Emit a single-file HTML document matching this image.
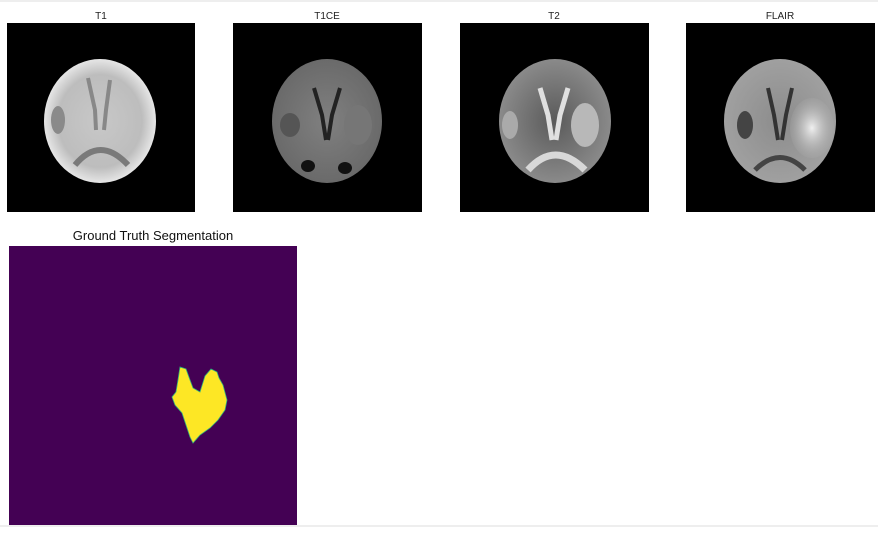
<!DOCTYPE html>
<html><head><meta charset="utf-8"><style>
body{margin:0;background:#fff;width:878px;height:529px;overflow:hidden;font-family:"Liberation Sans","DejaVu Sans",sans-serif}
</style></head><body>
<svg width="878" height="529" xmlns="http://www.w3.org/2000/svg">
<defs>
<radialGradient id="g1"><stop offset="0" stop-color="#c8c8c8"/><stop offset="0.75" stop-color="#bdbdbd"/><stop offset="1" stop-color="#e6e6e6"/></radialGradient>
<radialGradient id="g2"><stop offset="0" stop-color="#808080"/><stop offset="1" stop-color="#6a6a6a"/></radialGradient>
<radialGradient id="g3"><stop offset="0" stop-color="#5a5a5a"/><stop offset="1" stop-color="#8a8a8a"/></radialGradient>
<radialGradient id="g4"><stop offset="0" stop-color="#8c8c8c"/><stop offset="1" stop-color="#a0a0a0"/></radialGradient>
<radialGradient id="fl"><stop offset="0" stop-color="#f0f0f0"/><stop offset="1" stop-color="#b0b0b0" stop-opacity="0.2"/></radialGradient>
</defs>
<line x1="0" y1="1" x2="878" y2="1" stroke="#ddd" stroke-width="1"/>
<line x1="0" y1="526" x2="878" y2="526" stroke="#ddd" stroke-width="1"/>

<g>
<text x="101" y="19" font-size="10" text-anchor="middle" fill="#222">T1</text>
<rect x="7" y="23" width="188" height="189" fill="#000"/>
<ellipse cx="100" cy="121" rx="56" ry="62" fill="url(#g1)"/>
<path d="M88 78 L95 110 L96 130 M110 80 L106 110 L104 130" stroke="#888" stroke-width="4" fill="none"/>
<path d="M75 165 Q100 135 128 165" stroke="#7a7a7a" stroke-width="6" fill="none"/>
<ellipse cx="58" cy="120" rx="7" ry="14" fill="#8a8a8a"/>
</g>

<g>
<text x="327" y="19" font-size="10" text-anchor="middle" fill="#222">T1CE</text>
<rect x="233" y="23" width="189" height="189" fill="#000"/>
<ellipse cx="327" cy="121" rx="55" ry="62" fill="url(#g2)"/>
<path d="M314 88 L322 115 L326 140 M340 88 L332 115 L328 140" stroke="#222" stroke-width="4" fill="none"/>
<ellipse cx="308" cy="166" rx="7" ry="6" fill="#111"/>
<ellipse cx="345" cy="168" rx="7" ry="6" fill="#111"/>
<ellipse cx="290" cy="125" rx="10" ry="12" fill="#555"/>
<ellipse cx="358" cy="125" rx="14" ry="20" fill="#767676"/>
</g>

<g>
<text x="554" y="19" font-size="10" text-anchor="middle" fill="#222">T2</text>
<rect x="460" y="23" width="189" height="189" fill="#000"/>
<ellipse cx="555" cy="121" rx="56" ry="62" fill="url(#g3)"/>
<path d="M540 88 L548 115 L552 140 M568 88 L560 115 L556 140" stroke="#e0e0e0" stroke-width="5" fill="none"/>
<path d="M528 170 Q555 140 585 170" stroke="#d8d8d8" stroke-width="7" fill="none"/>
<ellipse cx="585" cy="125" rx="14" ry="22" fill="#b8b8b8"/>
<ellipse cx="510" cy="125" rx="8" ry="14" fill="#aaa"/>
</g>

<g>
<text x="780" y="19" font-size="10" text-anchor="middle" fill="#222">FLAIR</text>
<rect x="686" y="23" width="189" height="189" fill="#000"/>
<ellipse cx="780" cy="121" rx="56" ry="62" fill="url(#g4)"/>
<path d="M768 88 L774 115 L778 140 M792 88 L786 115 L782 140" stroke="#333" stroke-width="4" fill="none"/>
<ellipse cx="812" cy="128" rx="22" ry="30" fill="url(#fl)"/>
<ellipse cx="745" cy="125" rx="8" ry="14" fill="#444"/>
<path d="M755 170 Q780 145 805 170" stroke="#444" stroke-width="5" fill="none"/>
</g>

<g>
<text x="153" y="240" font-size="13" text-anchor="middle" fill="#111">Ground Truth Segmentation</text>
<rect x="9" y="246" width="288" height="279" fill="#440154"/>
<polygon id="tumor" fill="#fde725" stroke="#35b779" stroke-width="0.8"/>
</g>
</svg>
<script>
const tumorX=[180,186,190,193,200,205,211,217,219,223,227,225,218,210,200,193,190,186,182,175,172,176,178];
const tumorY=[367,369,380,388,392,376,369,372,378,385,400,410,420,428,435,443,437,425,413,405,397,392,380];
document.getElementById('tumor').setAttribute('points',tumorX.map((x,i)=>x+','+tumorY[i]).join(' '));
</script>
</body></html>
